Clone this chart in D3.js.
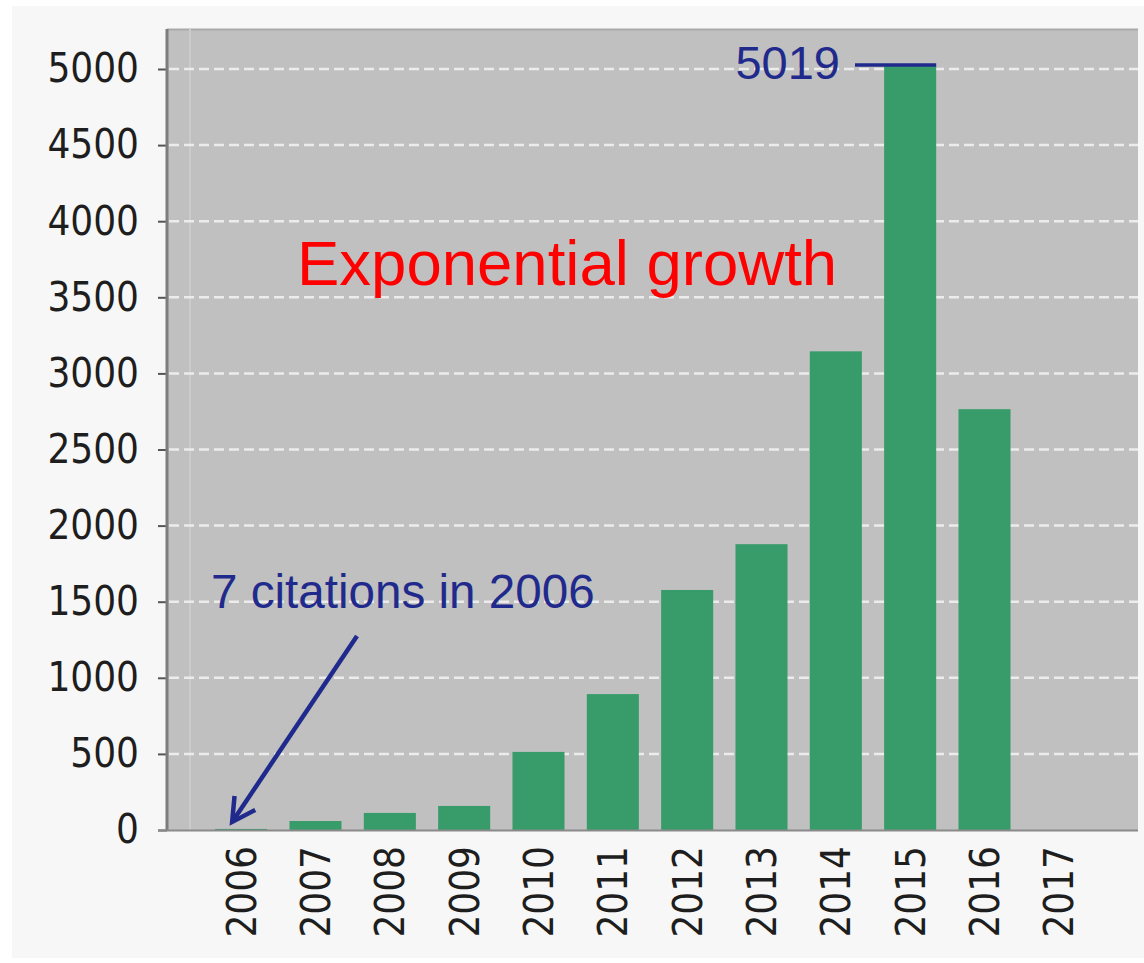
<!DOCTYPE html>
<html lang="en">
<head>
    <meta charset="UTF-8">
    <title>Citations per year</title>
    <script src="https://d3js.org/d3.v7.min.js"></script>
    <style>
        body {
            margin: 0;
            background: #ffffff;
        }
        .tick text {
            font-family: "DejaVu Sans", sans-serif;
            font-stretch: condensed;
            font-size: 40px;
            fill: #1e1e1e;
        }
        .note {
            font-family: "Liberation Sans", Arial, sans-serif;
        }
    </style>
</head>
<body>
<div id="my_dataviz"></div>
<script>
    // data
    var years = ["2006", "2007", "2008", "2009", "2010", "2011", "2012", "2013", "2014", "2015", "2016", "2017"];
    var citations = [7, 59, 112, 158, 513, 893, 1577, 1878, 3145, 5019, 2765, 0];
    var yTicks = [0, 500, 1000, 1500, 2000, 2500, 3000, 3500, 4000, 4500, 5000];

    var W = 1144, H = 963;
    // plot frame
    var plot = {left: 167, right: 1138, top: 29, bottom: 831};

    var svg = d3.select("#my_dataviz")
        .append("svg")
        .attr("width", W)
        .attr("height", H);

    // page background
    svg.append("rect")
        .attr("x", 12).attr("y", 6)
        .attr("width", W - 12).attr("height", 952)
        .attr("fill", "#f7f7f7");

    // plot background
    svg.append("rect")
        .attr("x", plot.left).attr("y", plot.top)
        .attr("width", plot.right - plot.left)
        .attr("height", plot.bottom - plot.top)
        .attr("fill", "#c0c0c0");

    // top edge of the frame a bit darker
    svg.append("line")
        .attr("x1", plot.left).attr("x2", plot.right)
        .attr("y1", plot.top + 0.5).attr("y2", plot.top + 0.5)
        .attr("stroke", "#a9a9a9").attr("stroke-width", 2);

    // faint vertical line inside the plot
    svg.append("line")
        .attr("x1", 190).attr("x2", 190)
        .attr("y1", plot.top).attr("y2", plot.bottom)
        .attr("stroke", "#cbcbcb").attr("stroke-width", 2);

    var x = d3.scaleBand()
        .domain(years)
        .range([204, 1096])
        .paddingInner(0.3)
        .paddingOuter(0.15);

    var y = d3.scaleLinear()
        .domain([0, 5000])
        .range([830, 69]);

    // grid lines
    svg.append("g")
        .selectAll("line")
        .data(yTicks.slice(1))
        .enter()
        .append("line")
        .attr("x1", plot.left + 2).attr("x2", plot.right)
        .attr("y1", function(d) { return y(d); })
        .attr("y2", function(d) { return y(d); })
        .attr("stroke", "#ececec")
        .attr("stroke-width", 2.5)
        .attr("stroke-dasharray", "10,5");

    // bars
    svg.append("g")
        .selectAll("rect")
        .data(citations)
        .enter()
        .append("rect")
        .attr("x", function(d, i) { return x(years[i]); })
        .attr("width", x.bandwidth())
        .attr("y", function(d) { return y(d); })
        .attr("height", function(d) { return y(0) - y(d); })
        .attr("fill", "#389b6a");

    // y axis
    var yAxis = svg.append("g")
        .attr("transform", "translate(" + plot.left + ",0)")
        .call(d3.axisLeft(y).tickValues(yTicks).tickSize(9).tickPadding(19).tickFormat(d3.format("d")));
    yAxis.select(".domain").remove();
    yAxis.selectAll(".tick line").attr("stroke", "#555").attr("stroke-width", 2);

    // left edge and base line
    svg.append("line")
        .attr("x1", plot.left).attr("x2", plot.left)
        .attr("y1", plot.top).attr("y2", plot.bottom)
        .attr("stroke", "#7d7d7d").attr("stroke-width", 3);
    svg.append("line")
        .attr("x1", 158).attr("x2", plot.right)
        .attr("y1", 830.5).attr("y2", 830.5)
        .attr("stroke", "#8a8a8a").attr("stroke-width", 2);

    // x axis labels, rotated
    var xAxis = svg.append("g")
        .attr("transform", "translate(0," + 831 + ")")
        .call(d3.axisBottom(x).tickSize(0).tickPadding(0));
    xAxis.select(".domain").remove();
    xAxis.selectAll(".tick text")
        .attr("text-anchor", "end")
        .attr("transform", "rotate(-90)")
        .attr("x", -15)
        .attr("y", 0)
        .attr("dy", "0.36em");

    // annotations
    var navy = "#1f2a8c";

    svg.append("text")
        .attr("class", "note")
        .attr("x", 297).attr("y", 285)
        .attr("font-size", "63.5px")
        .attr("fill", "#ff0000")
        .text("Exponential growth");

    var peak = citations[9];
    svg.append("line")
        .attr("x1", 855).attr("x2", x("2015") + x.bandwidth())
        .attr("y1", y(peak) - 1).attr("y2", y(peak) - 1)
        .attr("stroke", navy).attr("stroke-width", 3.5);
    svg.append("text")
        .attr("class", "note")
        .attr("x", 840).attr("y", 79)
        .attr("text-anchor", "end")
        .attr("font-size", "47px")
        .attr("fill", navy)
        .text(peak);

    svg.append("text")
        .attr("class", "note")
        .attr("x", 211).attr("y", 608)
        .attr("font-size", "47.6px")
        .attr("fill", navy)
        .text(citations[0] + " citations in " + years[0]);

    // arrow to the 2006 bar
    var tipX = x("2006") + x.bandwidth() / 2 - 9,
        tipY = y(citations[0]) - 7,
        tailX = 357, tailY = 636;
    var ang = Math.atan2(tailY - tipY, tailX - tipX),
        wing = 26, spread = 0.5;
    svg.append("path")
        .attr("d", "M" + tailX + "," + tailY + "L" + tipX + "," + tipY)
        .attr("stroke", navy).attr("stroke-width", 4.5).attr("fill", "none");
    svg.append("path")
        .attr("d", "M" + (tipX + wing * Math.cos(ang - spread)) + "," + (tipY + wing * Math.sin(ang - spread)) +
            "L" + tipX + "," + tipY +
            "L" + (tipX + wing * Math.cos(ang + spread)) + "," + (tipY + wing * Math.sin(ang + spread)))
        .attr("stroke", navy).attr("stroke-width", 4.5).attr("fill", "none")
        .attr("stroke-linejoin", "miter");
</script>
</body>
</html>
